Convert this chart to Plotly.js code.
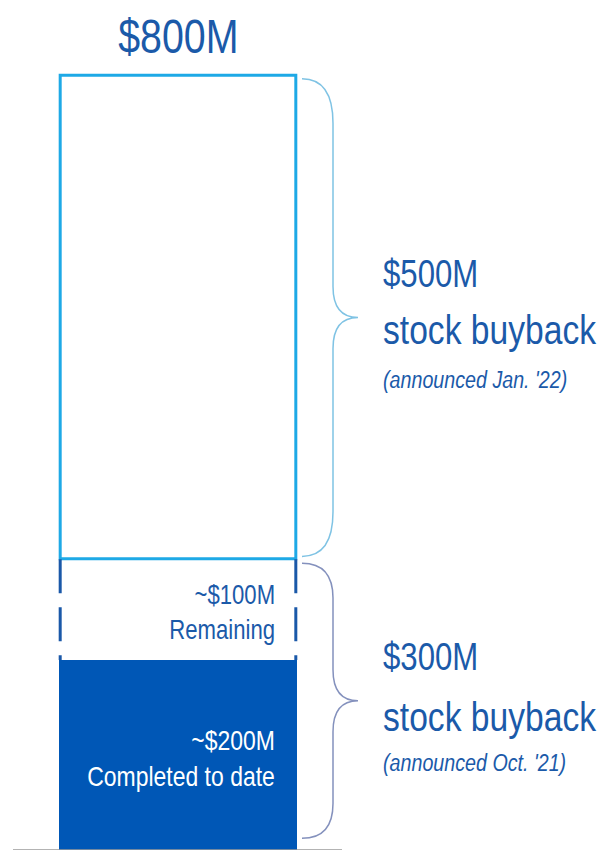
<!DOCTYPE html>
<html>
<head>
<meta charset="utf-8">
<script src="https://cdn.plot.ly/plotly-3.0.1.min.js"></script>
<style>html,body{margin:0;padding:0;background:#fff;}#chart{width:607px;height:851px;}</style>
</head>
<body>
<div id="chart"></div>
<script>
// ---- data ----
const segmentNames = ["Completed to date", "Remaining", "New program"];
const segmentValues = [196, 104, 500];
const segmentLabels = ["~$200M<br>Completed to date", "~$100M<br>Remaining", ""];
const totalLabel = "$800M";
const programAmounts = ["$300M", "$500M"];
const programNotes = ["(announced Oct. '21)", "(announced Jan. '22)"];
const programValues = [300, 500];

// ---- styling ----
const FONT = '"Liberation Sans", Arial, sans-serif';
const DARK = '#0057b6';
const LIGHT = '#1ea9e6';
const TEXT = '#1b5aa9';
const NARROW = 0.82; // horizontal condensation of all texts

const bases = [];
let acc = 0;
segmentValues.forEach(v => { bases.push(acc); acc += v; });
const total = acc;

const traces = [
  {type: 'bar', x: [0], y: [segmentValues[0]], base: [bases[0]], width: 1,
   marker: {color: DARK, line: {width: 0}}, hoverinfo: 'skip', name: segmentNames[0]},
  {type: 'bar', x: [0], y: [segmentValues[1]], base: [bases[1]], width: 1,
   marker: {color: 'rgba(255,255,255,0)', line: {width: 0}}, hoverinfo: 'skip', name: segmentNames[1]},
  {type: 'bar', x: [0], y: [segmentValues[2] - 1], base: [bases[2] + 0.5], width: 0.99,
   marker: {color: '#ffffff', line: {color: LIGHT, width: 3}}, hoverinfo: 'skip', name: segmentNames[2]}
];

// brace path (paper x, data y)
function brace(top, bot, r1, r2) {
  const xL = 302 / 607, xV = 333 / 607, xT = 358 / 607;
  const mid = (top + bot) / 2;
  return `M ${xL} ${top} Q ${xV} ${top} ${xV} ${top - r1} L ${xV} ${mid + r2} ` +
         `Q ${xV} ${mid} ${xT} ${mid} Q ${xV} ${mid} ${xV} ${mid - r2} ` +
         `L ${xV} ${bot + r1} Q ${xV} ${bot} ${xL} ${bot}`;
}

const remTop = bases[1] + segmentValues[1];
const shapes = [
  {type: 'line', xref: 'x', yref: 'y', x0: -0.495, x1: -0.495, y0: remTop, y1: bases[1],
   line: {color: '#1a58a8', width: 3, dash: '34px,14px'}},
  {type: 'line', xref: 'x', yref: 'y', x0: 0.495, x1: 0.495, y0: remTop, y1: bases[1],
   line: {color: '#1a58a8', width: 3, dash: '34px,14px'}},
  {type: 'line', xref: 'paper', yref: 'y', x0: 13 / 607, x1: 342 / 607, y0: 0, y1: 0,
   line: {color: '#9a9a9a', width: 1.5}},
  {type: 'path', xref: 'paper', yref: 'y', path: brace(total - 4, programValues[0] + 3, 46, 32),
   line: {color: '#7fc3e4', width: 1.5}},
  {type: 'path', xref: 'paper', yref: 'y', path: brace(programValues[0] - 4, 12, 36, 32),
   line: {color: '#8491bd', width: 1.5}}
];

const ax = 381 / 607;
const upperMid = (total + programValues[0]) / 2;
const lowerMid = programValues[0] / 2;
const annotations = [
  {xref: 'x', yref: 'y', x: 0, y: total, yanchor: 'bottom', yshift: 10, showarrow: false,
   text: totalLabel, font: {family: FONT, size: 48, color: TEXT}},
  {xref: 'x', yref: 'y', x: 0.5, xshift: -20, xanchor: 'right', align: 'right',
   y: bases[1] + segmentValues[1] / 2, yanchor: 'middle', yshift: -3, showarrow: false,
   text: segmentLabels[1], font: {family: FONT, size: 27, color: TEXT}},
  {xref: 'x', yref: 'y', x: 0.5, xshift: -20, xanchor: 'right', align: 'right',
   y: bases[0] + segmentValues[0] / 2, yanchor: 'middle', yshift: -3, showarrow: false,
   text: segmentLabels[0], font: {family: FONT, size: 28, color: '#ffffff'}},
  {xref: 'paper', yref: 'y', x: ax, xanchor: 'left', y: upperMid, yanchor: 'middle', yshift: 43,
   showarrow: false, text: programAmounts[1], font: {family: FONT, size: 38, color: TEXT}},
  {xref: 'paper', yref: 'y', x: ax, xanchor: 'left', y: upperMid, yanchor: 'middle', yshift: -13,
   showarrow: false, text: 'stock buyback', font: {family: FONT, size: 41, color: TEXT}},
  {xref: 'paper', yref: 'y', x: ax, xanchor: 'left', y: upperMid, yanchor: 'middle', yshift: -62,
   showarrow: false, text: '<i>' + programNotes[1] + '</i>', font: {family: FONT, size: 24, color: TEXT}},
  {xref: 'paper', yref: 'y', x: ax, xanchor: 'left', y: lowerMid, yanchor: 'middle', yshift: 48,
   showarrow: false, text: programAmounts[0], font: {family: FONT, size: 38, color: TEXT}},
  {xref: 'paper', yref: 'y', x: ax, xanchor: 'left', y: lowerMid, yanchor: 'middle', yshift: -12,
   showarrow: false, text: 'stock buyback', font: {family: FONT, size: 41, color: TEXT}},
  {xref: 'paper', yref: 'y', x: ax, xanchor: 'left', y: lowerMid, yanchor: 'middle', yshift: -58,
   showarrow: false, text: '<i>' + programNotes[0] + '</i>', font: {family: FONT, size: 24, color: TEXT}}
];

const layout = {
  width: 607, height: 851,
  margin: {l: 0, r: 0, t: 69, b: 1, pad: 0},
  paper_bgcolor: '#ffffff', plot_bgcolor: '#ffffff',
  showlegend: false, barmode: 'overlay',
  xaxis: {range: [-0.7479, 1.8025], visible: false, fixedrange: true},
  yaxis: {range: [0, 806], visible: false, fixedrange: true},
  shapes: shapes, annotations: annotations,
  font: {family: FONT}
};

Plotly.newPlot('chart', traces, layout, {staticPlot: true, displayModeBar: false}).then(gd => {
  // condense the text horizontally around each annotation's anchor edge
  const nodes = gd.querySelectorAll('g.annotation');
  nodes.forEach((g, i) => {
    const t = g.querySelector('text.annotation-text');
    if (!t) return;
    const bb = t.getBBox();
    const anc = annotations[i].xanchor || 'center';
    let cx = bb.x + bb.width / 2;
    if (anc === 'left') cx = bb.x;
    if (anc === 'right') cx = bb.x + bb.width;
    t.setAttribute('transform', `matrix(${NARROW},0,0,1,${cx * (1 - NARROW)},0)`);
  });
});
</script>
</body>
</html>
